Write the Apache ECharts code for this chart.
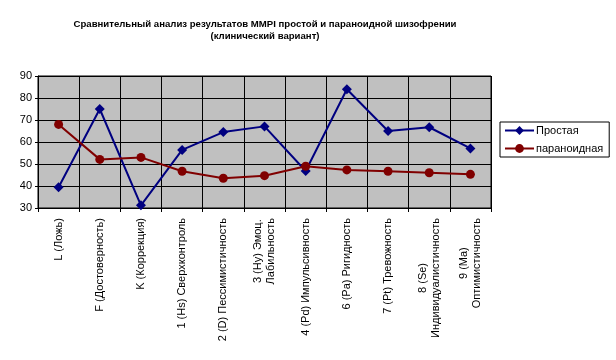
<!DOCTYPE html>
<html><head><meta charset="utf-8">
<script src="https://cdn.jsdelivr.net/npm/echarts@6/dist/echarts.min.js"></script>
<style>html,body{margin:0;padding:0;background:#fff}#c{width:616px;height:360px}</style>
</head><body><div id="c"></div>
<script>
var titleLines = ['Сравнительный анализ результатов MMPI простой и параноидной шизофрении', '(клинический вариант)'];
var categories = [
  'L (Ложь)',
  'F (Достоверность)',
  'K (Коррекция)',
  '1 (Hs) Сверхконтроль',
  '2 (D) Пессимистичность',
  '3 (Hy) Эмоц.\nЛабильность',
  '4 (Pd) Импульсивность',
  '6 (Pa) Ригидность',
  '7 (Pt) Тревожность',
  '8 (Se)\nИндивидуалистичность',
  '9 (Ma)\nОптимистичность'
];
var seriesNames = ['Простая', 'параноидная'];
var prostaya = [39.4, 75, 31.2, 56.4, 64.5, 67.1, 46.8, 84, 65, 66.7, 57.1];
var paranoid = [68, 52.1, 53, 46.7, 43.5, 44.7, 49, 47.3, 46.7, 46, 45.3];
var yMin = 30, yMax = 90, yStep = 10;

var font = 'Liberation Sans, Arial, sans-serif';
var chart = echarts.init(document.getElementById('c'), null, {renderer: 'canvas'});
chart.setOption({
  animation: false,
  backgroundColor: '#fff',
  textStyle: {fontFamily: font},
  title: {
    text: titleLines.join('\n'),
    left: 260, top: 13, textAlign: 'center',
    textStyle: {fontFamily: font, fontSize: 9.6, fontWeight: 'bold', color: '#000', lineHeight: 12}
  },
  legend: {
    orient: 'vertical',
    left: 500, top: 122,
    padding: [3, 6, 3, 4],
    itemGap: 7,
    itemWidth: 29, itemHeight: 11,
    borderColor: '#000', borderWidth: 1,
    backgroundColor: '#fff',
    textStyle: {fontFamily: font, fontSize: 11, color: '#000', padding: [0, 0, 0, -3]},
    data: seriesNames
  },
  grid: {
    left: 38, right: 125, top: 76, bottom: 152,
    show: true, backgroundColor: '#c0c0c0', borderColor: '#000', borderWidth: 1,
    containLabel: false
  },
  xAxis: {
    type: 'category',
    data: categories,
    boundaryGap: true,
    axisLine: {lineStyle: {color: '#000', width: 1}},
    axisTick: {show: true, length: 4, alignWithLabel: false, lineStyle: {color: '#000'}},
    splitLine: {show: true, interval: 0, lineStyle: {color: '#000', width: 1}},
    axisLabel: {
      interval: 0, rotate: 90, margin: 10,
      fontFamily: font, fontSize: 11, color: '#000',
      formatter: function (v) {
        return v.split('\n').map(function (s) { return '{c|' + s + '}'; }).join('\n');
      },
      rich: {c: {align: 'center', fontFamily: font, fontSize: 11, color: '#000', lineHeight: 13}}
    }
  },
  yAxis: {
    type: 'value',
    min: yMin, max: yMax, interval: yStep,
    axisLine: {show: true, lineStyle: {color: '#000'}},
    axisTick: {show: true, length: 3, lineStyle: {color: '#000'}},
    splitLine: {show: true, lineStyle: {color: '#000', width: 1}},
    axisLabel: {fontFamily: font, fontSize: 11, color: '#000', margin: 6}
  },
  series: [
    {
      name: seriesNames[0], type: 'line', data: prostaya,
      symbol: 'diamond', symbolSize: 10,
      itemStyle: {color: '#000080'},
      lineStyle: {color: '#000080', width: 2}
    },
    {
      name: seriesNames[1], type: 'line', data: paranoid,
      symbol: 'circle', symbolSize: 9,
      itemStyle: {color: '#800000'},
      lineStyle: {color: '#800000', width: 2}
    }
  ]
});
</script></body></html>
